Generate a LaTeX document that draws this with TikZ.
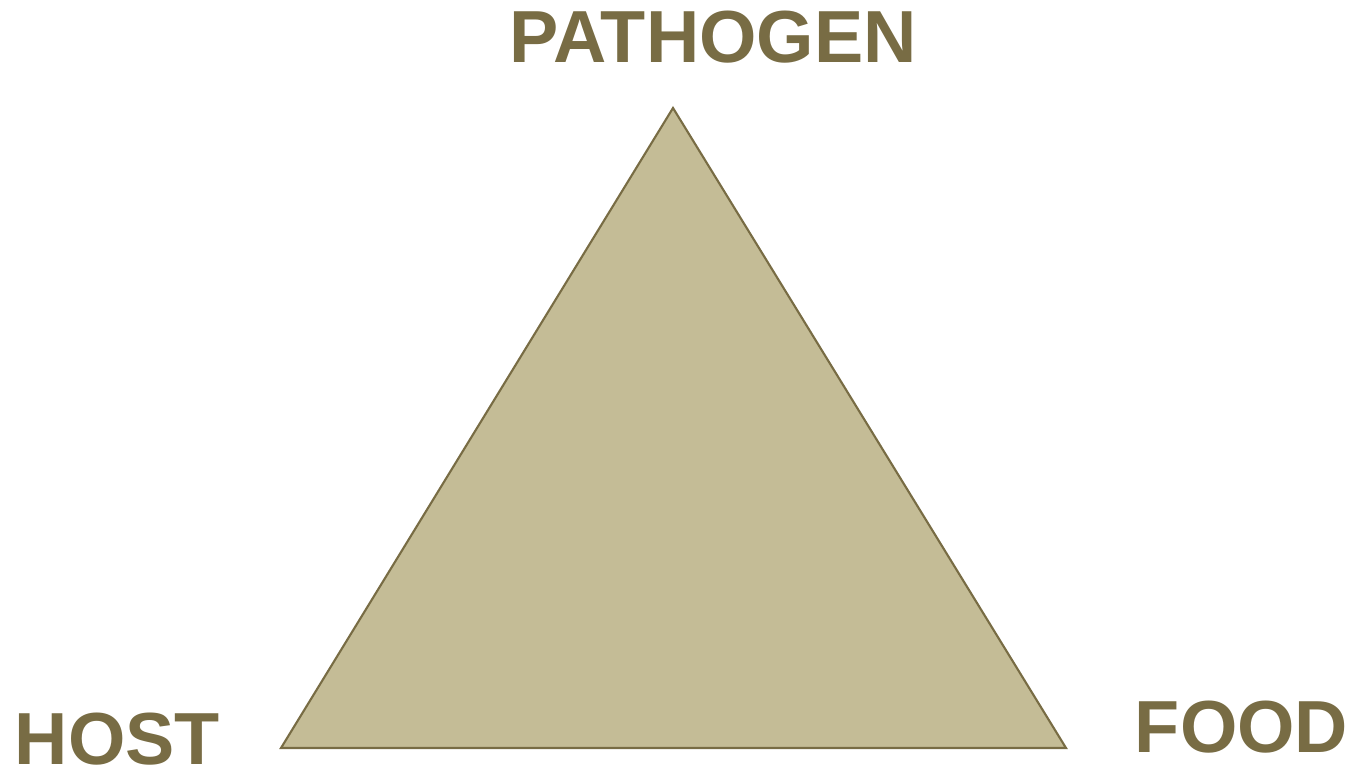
\documentclass[tikz,border=0pt]{standalone}
\usepackage{fontspec}
\setmainfont{Liberation Sans}
\usepackage{xcolor}
\usepackage{tikz}
\usetikzlibrary{positioning, calc}
\definecolor{oliveline}{RGB}{120, 108, 68}
\definecolor{olivefill}{RGB}{196, 188, 150}
\tikzset{
    vertexlabel/.style={text=oliveline, font=\fontsize{42}{42}\selectfont\bfseries,
        inner sep=0pt, anchor=base}
}

\begin{document}
\begin{tikzpicture}
    \useasboundingbox (0,0) rectangle (27.06,15.42);
    \coordinate (P) at (13.46,13.26);
    \coordinate (H) at (5.62,0.46);
    \coordinate (F) at (21.32,0.46);
    \filldraw[fill=olivefill, draw=oliveline, line width=1.2pt, line join=miter]
        (P)--(H)--(F)--cycle;
    \node[vertexlabel] (pathogen) at (14.26,14.16) {PATHOGEN};
    \node[vertexlabel] (host) at (2.35,0.13) {HOST};
    \node[vertexlabel] (food) at (24.83,0.38) {FOOD};
\end{tikzpicture}
\end{document}
